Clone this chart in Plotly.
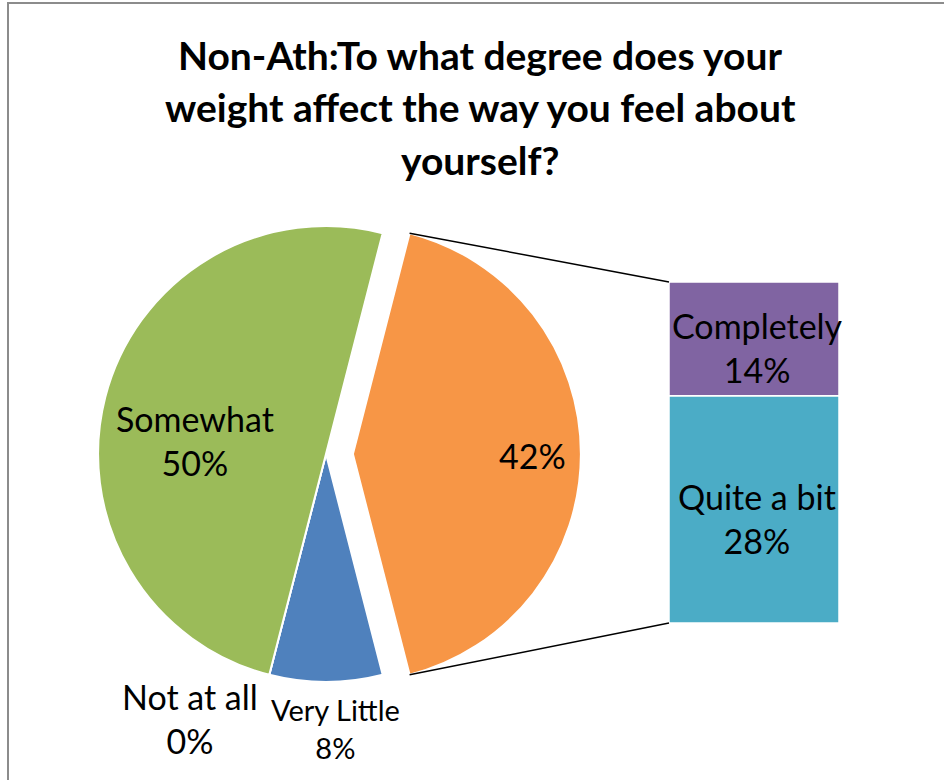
import numpy as np
import plotly.graph_objects as go

# ---- data ----
pie_labels = ["Other", "Very Little", "Not at all", "Somewhat"]
pie_values = [42, 8, 0, 50]
pie_colors = ["#F79646", "#4F81BD", "#8064A2", "#9BBB59"]

bar_labels = ["Quite a bit", "Completely"]
bar_values = [28, 14]
bar_colors = ["#4BACC6", "#8064A2"]

title_lines = ["Non-Ath:To what degree does your",
               "weight affect the way you feel about",
               "yourself?"]

W, H = 944, 780
FONT = "Lato"

# pie geometry (pixels)
cx, cy, R = 326, 454, 228
pull = 0.118
half = R * (1 + pull)
dom_x = [(cx - half) / W, (cx + half) / W]
dom_y = [1 - (cy + half) / H, 1 - (cy - half) / H]

# bar geometry (pixels)
bx0, bx1, by_top, by_bot = 669, 839, 282, 623

total = sum(pie_values)
other = pie_values[0]
rot = 90 - 180 * other / total  # start of "Other" slice, degrees clockwise from 12 o'clock

fig = go.Figure()
fig.add_trace(go.Pie(
    labels=pie_labels, values=pie_values, sort=False,
    direction="clockwise", rotation=rot,
    pull=[pull, 0, 0, 0],
    marker=dict(colors=pie_colors, line=dict(color="white", width=2)),
    textinfo="none", hoverinfo="label+percent",
    domain=dict(x=dom_x, y=dom_y), showlegend=False,
))

bases = [0, bar_values[0]]
fig.add_trace(go.Bar(
    x=[0, 0], y=bar_values, base=bases,
    marker=dict(color=bar_colors, line=dict(color="white", width=1.5)),
    width=1, xaxis="x2", yaxis="y2", showlegend=False,
    hoverinfo="text", hovertext=[f"{l}: {v}%" for l, v in zip(bar_labels, bar_values)],
))

# bar labels, anchored to the middle of each stacked segment
for l, v, b in zip(bar_labels, bar_values, bases):
    fig.add_annotation(text=f"{l}<br>{v}%", x=0.02, y=b + v / 2, xref="x2", yref="y2",
                       showarrow=False, xanchor="center", yanchor="middle", yshift=-9,
                       font=dict(family=FONT, size=34, color="black"))

fig.update_layout(
    width=W, height=H, margin=dict(l=0, r=0, t=0, b=0),
    paper_bgcolor="white", plot_bgcolor="rgba(0,0,0,0)",
    barmode="overlay",
    xaxis2=dict(domain=[bx0 / W, bx1 / W], range=[-0.5, 0.5], visible=False, fixedrange=True),
    yaxis2=dict(domain=[1 - by_bot / H, 1 - by_top / H], range=[0, other], visible=False, fixedrange=True),
)

# connector lines from the exploded slice to the bar
ang_half = np.deg2rad(180 * other / total)  # half-angle of the "Other" slice
ocx = cx + R * pull
p_top = (ocx + R * np.cos(ang_half), cy - R * np.sin(ang_half))
p_bot = (ocx + R * np.cos(ang_half), cy + R * np.sin(ang_half))
for (px, py), qy in [(p_top, by_top), (p_bot, by_bot)]:
    fig.add_shape(type="line", xref="paper", yref="paper",
                  x0=px / W, y0=1 - py / H, x1=bx0 / W, y1=1 - qy / H,
                  line=dict(color="black", width=1.5))

# border
fig.add_shape(type="rect", xref="paper", yref="paper",
              x0=8 / W, y0=-0.05, x1=1.05, y1=1 - 3 / H,
              line=dict(color="#8c8c8c", width=2))

# title
for t, yy in zip(title_lines, [55, 107, 160]):
    fig.add_annotation(text=f"<b>{t}</b>", x=480 / W, y=1 - yy / H, xref="paper", yref="paper",
                       showarrow=False, xanchor="center", yanchor="middle",
                       font=dict(family=FONT, size=39, color="black"))

# pie labels
pie_label_pos = [
    (195, 440, 34, f"{pie_labels[3]}<br>{pie_values[3]}%"),
    (532, 455, 34, f"{pie_values[0]}%"),
    (190, 718, 34, f"{pie_labels[2]}<br>{pie_values[2]}%"),
    (335, 728, 29, f"{pie_labels[1]}<br>{pie_values[1]}%"),
]
for x, y, s, t in pie_label_pos:
    fig.add_annotation(text=t, x=x / W, y=1 - y / H, xref="paper", yref="paper",
                       showarrow=False, xanchor="center", yanchor="middle",
                       font=dict(family=FONT, size=s, color="black"))

fig.write_html("out.html", config={"displayModeBar": False},
               post_script="document.body.style.margin='0';")
